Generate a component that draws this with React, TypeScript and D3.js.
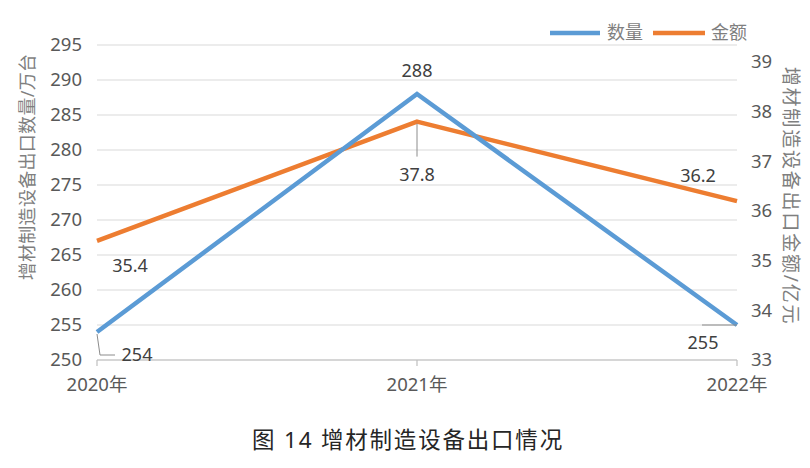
import React from "react";
import * as d3 from "d3";

const years = ["2020年", "2021年", "2022年"];
const quantity = [254, 288, 255];
const amount = [35.4, 37.8, 36.2];
const leftTicks = [250, 255, 260, 265, 270, 275, 280, 285, 290, 295];
const rightTicks = [33, 34, 35, 36, 37, 38, 39];
const seriesNames = ["数量", "金额"];
const leftTitle = "增材制造设备出口数量/万台";
const rightTitle = "增材制造设备出口金额/亿元";
const chartTitle = "图 14 增材制造设备出口情况";

const W = 810;
const H = 468;
const BLUE = "#5B9BD5";
const ORANGE = "#ED7D31";
const FONT = "'Noto Sans', 'Noto Sans CJK SC', sans-serif";

export default function App() {
  const x = d3.scalePoint<string>().domain(years).range([97, 737]);
  const yL = d3.scaleLinear().domain([250, 295]).range([360, 45]);
  const yR = d3.scaleLinear().domain([33, 39]).range([360, 62]);

  const lineQ = d3
    .line<number>()
    .x((_, i) => x(years[i]) as number)
    .y((d) => yL(d));
  const lineA = d3
    .line<number>()
    .x((_, i) => x(years[i]) as number)
    .y((d) => yR(d));

  const px = (i: number) => x(years[i]) as number;

  return (
    <svg
      width={W}
      height={H}
      style={{ position: "absolute", left: 0, top: 0, background: "#fff" }}
      fontFamily={FONT}
    >
      <rect width={W} height={H} fill="#fff" />
      {/* gridlines */}
      {leftTicks.map((t) => (
        <line key={t} x1={97} x2={737} y1={yL(t)} y2={yL(t)} stroke="#d9d9d9" strokeWidth={1.2} />
      ))}
      {/* x axis */}
      <line x1={97} x2={737} y1={360} y2={360} stroke="#bfbfbf" strokeWidth={1.2} />
      {years.map((y) => (
        <line key={y} x1={x(y)} x2={x(y)} y1={360} y2={366} stroke="#bfbfbf" strokeWidth={1.2} />
      ))}
      {years.map((y) => (
        <text key={y} x={x(y)} y={391} textAnchor="middle" fontSize={18.5} fill="#595959">
          {y}
        </text>
      ))}
      {/* left ticks */}
      {leftTicks.map((t) => (
        <text key={t} x={82} y={yL(t)} dy="0.35em" textAnchor="end" fontSize={18.5} fill="#595959">
          {t}
        </text>
      ))}
      {/* right ticks */}
      {rightTicks.map((t) => (
        <text key={t} x={751} y={yR(t)} dy="0.35em" textAnchor="start" fontSize={18.5} fill="#595959">
          {t}
        </text>
      ))}
      {/* axis titles */}
      <text
        transform={`translate(28,167) rotate(-90)`}
        textAnchor="middle"
        dy="0.35em"
        fontSize={18}
        letterSpacing={0.3}
        fill="#7f7f7f"
      >
        {leftTitle}
      </text>
      <text
        transform={`translate(791,196) rotate(90)`}
        textAnchor="middle"
        dy="0.35em"
        fontSize={19}
        letterSpacing={1.8}
        fill="#7f7f7f"
      >
        {rightTitle}
      </text>
      {/* lines */}
      <path d={lineA(amount) || ""} fill="none" stroke={ORANGE} strokeWidth={4.5} strokeLinejoin="round" />
      <path d={lineQ(quantity) || ""} fill="none" stroke={BLUE} strokeWidth={4.5} strokeLinejoin="miter" />
      {/* leader lines */}
      <polyline
        points={`${px(0)},${yL(quantity[0]) + 2} ${px(0) + 3},${yL(quantity[0]) + 23} ${px(0) + 18},${yL(quantity[0]) + 23}`}
        fill="none"
        stroke="#8c8c8c"
        strokeWidth={1}
      />
      <line x1={px(1)} x2={px(1)} y1={yR(amount[1]) + 2} y2={yR(amount[1]) + 35} stroke="#8c8c8c" strokeWidth={1} />
      <line x1={px(2) - 35} x2={px(2)} y1={yL(quantity[2])} y2={yL(quantity[2])} stroke="#8c8c8c" strokeWidth={1} />
      {/* data labels */}
      <text x={137} y={yL(quantity[0]) + 23} dy="0.35em" textAnchor="middle" fontSize={18} fill="#404040">
        {quantity[0]}
      </text>
      <text x={px(1)} y={yL(quantity[1]) - 23} dy="0.35em" textAnchor="middle" fontSize={18} fill="#404040">
        {quantity[1]}
      </text>
      <text x={703} y={yL(quantity[2]) + 18} dy="0.35em" textAnchor="middle" fontSize={18} fill="#404040">
        {quantity[2]}
      </text>
      <text x={130} y={yR(amount[0]) + 25} dy="0.35em" textAnchor="middle" fontSize={18} fill="#404040">
        {amount[0].toFixed(1)}
      </text>
      <text x={px(1)} y={yR(amount[1]) + 53} dy="0.35em" textAnchor="middle" fontSize={18} fill="#404040">
        {amount[1].toFixed(1)}
      </text>
      <text x={698} y={yR(amount[2]) - 25} dy="0.35em" textAnchor="middle" fontSize={18} fill="#404040">
        {amount[2].toFixed(1)}
      </text>
      {/* legend */}
      <line x1={550} x2={600} y1={33} y2={33} stroke={BLUE} strokeWidth={4.5} />
      <text x={607} y={33} dy="0.35em" fontSize={18} fill="#7f7f7f">
        {seriesNames[0]}
      </text>
      <line x1={653} x2={705} y1={33} y2={33} stroke={ORANGE} strokeWidth={4.5} />
      <text x={711} y={33} dy="0.35em" fontSize={18} fill="#7f7f7f">
        {seriesNames[1]}
      </text>
      {/* chart title */}
      <text x={408} y={440} dy="0.35em" textAnchor="middle" fontSize={22.5} letterSpacing={1.8} fill="#262626">
        {chartTitle}
      </text>
    </svg>
  );
}
